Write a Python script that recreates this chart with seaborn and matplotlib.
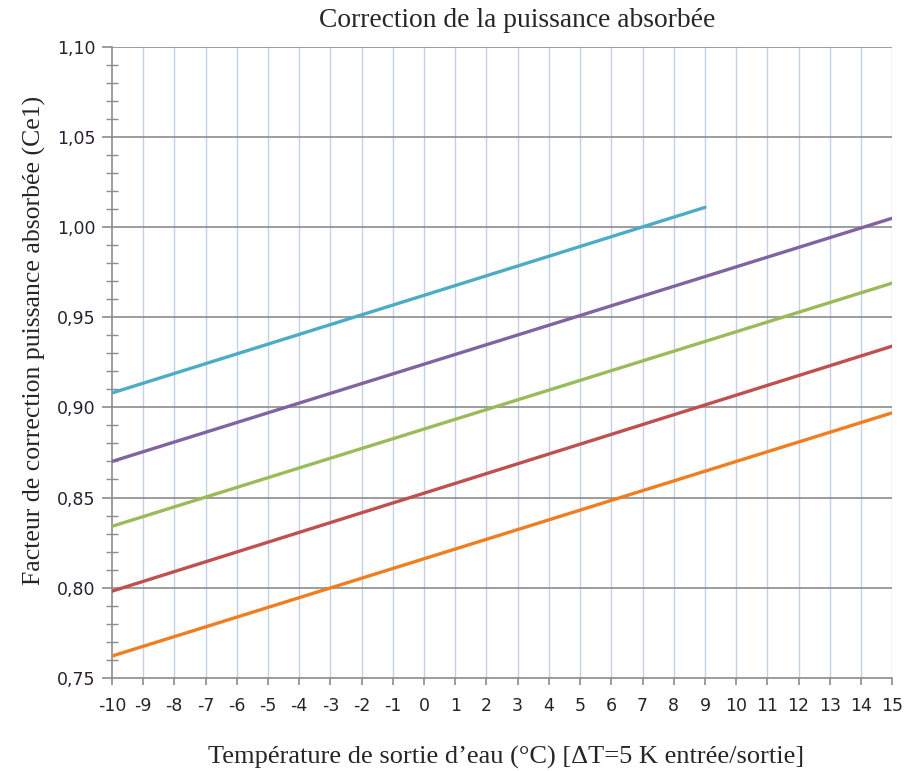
import numpy as np
import pandas as pd
import matplotlib
matplotlib.use('Agg')
import matplotlib.pyplot as plt
from matplotlib.ticker import MultipleLocator, FuncFormatter
import seaborn as sns

# Line endpoints (straight lines)
series = ['cyan', 'purple', 'green', 'red', 'orange']
x_start = [-10, -10, -10, -10, -10]
x_end = [9, 15, 15, 15, 15]
y_start = [0.908, 0.870, 0.834, 0.798, 0.762]
y_end = [1.011, 1.005, 0.969, 0.934, 0.897]
colors = ['#4BACC6', '#8064A2', '#9BBB59', '#C0504D', '#F07D1E']

rows = []
for s, xa, xb, ya, yb in zip(series, x_start, x_end, y_start, y_end):
    rows.append({'serie': s, 'x': xa, 'y': ya})
    rows.append({'serie': s, 'x': xb, 'y': yb})
df = pd.DataFrame(rows)

sns.set_style('white')
fig = plt.figure(figsize=(9.17, 7.71), dpi=100)
ax = fig.add_axes([0.122, 0.121, 0.851, 0.818])

sns.lineplot(data=df, x='x', y='y', hue='serie', palette=dict(zip(series, colors)),
             legend=False, linewidth=2.4, ax=ax, zorder=3)

ax.set_xlim(-10, 15)
ax.set_ylim(0.75, 1.10)
ax.xaxis.set_major_locator(MultipleLocator(1))
ax.yaxis.set_major_locator(MultipleLocator(0.05))
ax.yaxis.set_minor_locator(MultipleLocator(0.01))
ax.yaxis.set_major_formatter(FuncFormatter(lambda v, p: f'{v:.2f}'.replace('.', ',')))
ax.xaxis.set_major_formatter(FuncFormatter(lambda v, p: f'{int(round(v))}'))

ax.grid(False)
for xv in range(-9, 16):
    ax.axvline(xv, color='#C0D2EA', lw=1.0, zorder=1)
for yv in np.arange(0.80, 1.101, 0.05):
    ax.axhline(yv, color='#8C8C8C', lw=1.2, zorder=2)

for side in ['top', 'right']:
    ax.spines[side].set_visible(False)
for side in ['left', 'bottom']:
    ax.spines[side].set_color('#8C8C8C')
    ax.spines[side].set_linewidth(1.2)

ax.tick_params(axis='y', which='major', direction='out', length=7, width=1.2,
               color='#8C8C8C', labelsize=12.5, labelcolor='#2A2030', pad=5, left=True)
ax.tick_params(axis='y', which='minor', direction='inout', length=8, width=1.0,
               color='#8C8C8C', left=True)
ax.tick_params(axis='x', which='major', direction='out', length=5, width=1.2,
               color='#8C8C8C', labelsize=12.5, labelcolor='#2A2030', pad=9, bottom=True)
ax.set_xlabel('')
ax.set_ylabel('')

serif = ['Liberation Serif', 'DejaVu Serif']
fig.text(0.552, 0.009, 'Température de sortie d\u2019eau (°C) [ΔT=5 K entrée/sortie]',
         ha='center', va='baseline', fontsize=19, family=serif)
fig.text(0.038, 0.559, 'Facteur de correction puissance absorbée (Ce1)', ha='center',
         va='center', rotation=90, fontsize=18.5, family=serif)
fig.text(0.564, 0.965, 'Correction de la puissance absorbée', ha='center', va='baseline',
         fontsize=19.8, family=serif)

fig.savefig('out.png', dpi=100)
plt.close(fig)
print('Saved: out.png')
